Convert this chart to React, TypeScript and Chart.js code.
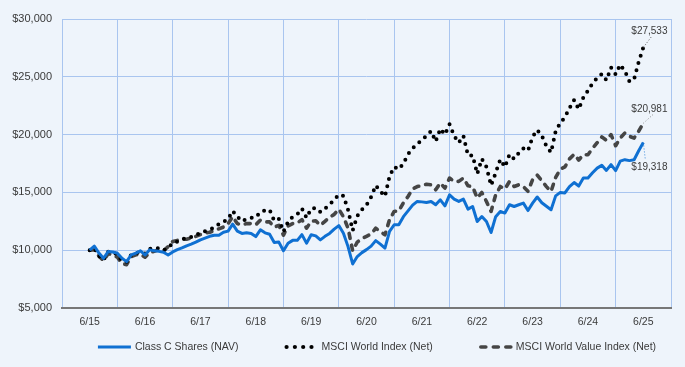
import React, { useEffect, useRef } from "react";
import { Chart, registerables } from "chart.js";

Chart.register(...registerables);

// ---- data ----
const tickLabels = ["6/15", "6/16", "6/17", "6/18", "6/19", "6/20", "6/21", "6/22", "6/23", "6/24", "6/25"];

const seriesNames = ["Class C Shares (NAV)", "MSCI World Index (Net)", "MSCI World Value Index (Net)"];

const endLabels = ["$19,318", "$27,533", "$20,981"];

// monthly values, 6/15 .. 6/25
const classC = [
  10000, 10350, 9750, 9300, 9880, 9850, 9740, 9300, 9010, 9600, 9740, 9940,
  9590, 10030, 9950, 9900, 9830, 9590, 9850, 10050, 10200, 10380, 10530, 10700,
  10900, 11050, 11200, 11300, 11300, 11550, 11650, 12250, 11650, 11450, 11500, 11450,
  11180, 11760, 11500, 11380, 10660, 10700, 9950, 10600, 10850, 10850, 11350, 10610,
  11330, 11240, 10890, 11200, 11450, 11820, 12130, 11470, 10310, 8810, 9450, 9790,
  10050, 10350, 10830, 10520, 10180, 11620, 12200, 12200, 12900, 13400, 13900, 14220,
  14180, 14130, 14220, 13930, 14360, 13840, 14790, 14420, 14220, 14420, 13550, 13780,
  12480, 12910, 12480, 11530, 12900, 13350, 13210, 13930, 13780, 13930, 14070, 13430,
  14070, 14600, 14100, 13800, 13500, 14700, 15000, 14950, 15500, 15850, 15550, 16240,
  16240, 16700, 17100, 17340, 16900, 17400, 16880, 17700, 17830, 17750, 17830, 18600,
  19318,
];

const msciWorld = [
  10000, 10180, 9490, 9140, 9860, 9810, 9640, 9060, 9000, 9610, 9760, 9820,
  9710, 10120, 10130, 10180, 9990, 10200, 10600, 10750, 10950, 11050, 11150, 11300,
  11500, 11650, 11800, 11950, 12250, 12450, 12700, 13400, 12900, 12500, 12700, 12800,
  12850, 13300, 13450, 13500, 12550, 12700, 11600, 12450, 12900, 13100, 13600, 12800,
  13600, 13650, 13300, 13600, 13950, 14350, 14800, 14700, 13500, 11700, 12950, 13500,
  13900, 14600, 15600, 15100, 14650, 16400, 17200, 17000, 17500, 18300, 18800, 19200,
  19500, 19900, 20300, 19400, 20500, 20000, 20900, 19900, 19300, 19900, 18200, 18200,
  16600, 17900, 17200, 15600, 16700, 17850, 17200, 18300, 17900, 18400, 18800, 18600,
  19800, 20400, 19900, 19000, 18460, 20300, 21000, 21500, 22300, 23000, 22200, 23200,
  23800, 24450, 24900, 25250, 24700, 25800, 25200, 26050, 25500, 24600, 24800, 26300,
  27533,
];

const msciWorldValue = [
  10000, 10050, 9500, 9100, 9700, 9600, 9400, 8850, 8750, 9450, 9600, 9650,
  9400, 9800, 9900, 10050, 9950, 10300, 10750, 10850, 10950, 10950, 11050, 11200,
  11350, 11500, 11550, 11700, 11850, 12000, 12300, 12900, 12300, 12200, 12300, 12300,
  12200, 12600, 12450, 12450, 12000, 12150, 11300, 12100, 12300, 12350, 12650, 11900,
  12500, 12550, 12150, 12500, 12850, 13100, 13550, 12900, 11900, 9950, 10700, 11000,
  11200, 11400, 11900, 11600, 11330, 12650, 13350, 13400, 14100, 14650, 15300, 15500,
  15600, 15700, 15650, 15230, 15810, 15370, 16240, 15950, 15950, 16240, 15570, 15500,
  14510, 14990, 14210, 13350, 14790, 15510, 15290, 15950, 15510, 15660, 15500, 15100,
  16100, 16500, 16000, 15500, 15080, 16300, 17000, 17200, 17900, 18300, 17800, 18260,
  18260, 18800, 19300, 19800, 19500, 20000, 19040, 19700, 20140, 19850, 19700, 20300,
  20981,
];

// ---- styles ----
const FONT = 'Arial, "Liberation Sans", Helvetica, sans-serif';
const BG = "#eef4fb";
const GRID = "#a9c5ef";
const TEXT = "#3a3a3a";
const BLUE = "#0f70d2";
const WORLD = "#000000";
const VALUE = "#454545";

type Style = { color: string; width: number; dash: number[]; kind: "line" | "dots" | "dashes" };
const styles: Style[] = [
  { color: BLUE, width: 3, dash: [], kind: "line" },
  { color: WORLD, width: 4, dash: [0, 7.5], kind: "dots" },
  { color: VALUE, width: 3.6, dash: [5, 7], kind: "dashes" },
];

// leader / label offsets relative to each series' last point
const endLabelLayout = [
  { lx: 2, ly: 17, tx: -12, ty: 25, lead: "rgba(15,112,210,0.8)" },
  { lx: 9, ly: -12, tx: -12, ty: -16, lead: "#555" },
  { lx: 10, ly: -9, tx: -12, ty: -14, lead: "#888" },
];

const endLabelPlugin = {
  id: "endLabels",
  afterDatasetsDraw(chart: any) {
    const ctx = chart.ctx;
    ctx.save();
    chart.data.datasets.forEach((_ds: any, i: number) => {
      const meta = chart.getDatasetMeta(i);
      const pt = meta.data[meta.data.length - 1];
      if (!pt) return;
      const L = endLabelLayout[i];
      ctx.beginPath();
      ctx.setLineDash([1, 2]);
      ctx.lineWidth = 1;
      ctx.strokeStyle = L.lead;
      ctx.moveTo(pt.x, pt.y);
      ctx.lineTo(pt.x + L.lx, pt.y + L.ly);
      ctx.stroke();
      ctx.setLineDash([]);
      ctx.font = `10px ${FONT}`;
      ctx.fillStyle = TEXT;
      ctx.textAlign = "left";
      ctx.textBaseline = "middle";
      ctx.fillText(endLabels[i], pt.x + L.tx, pt.y + L.ty);
    });
    ctx.restore();
  },
};

const legendPlugin = {
  id: "customLegend",
  afterDraw(chart: any) {
    const ctx = chart.ctx;
    ctx.save();
    ctx.font = `10.5px ${FONT}`;
    const sample = 33;
    const gapText = 4;
    const gapItem = 46;
    const widths = seriesNames.map((n) => ctx.measureText(n).width);
    const total = widths.reduce((a, w) => a + w + sample + gapText, 0) + gapItem * (seriesNames.length - 1);
    let x = 377 - total / 2;
    const y = 347;
    seriesNames.forEach((name, i) => {
      const s = styles[i];
      ctx.strokeStyle = s.color;
      ctx.fillStyle = s.color;
      if (s.kind === "line") {
        ctx.beginPath();
        ctx.lineWidth = s.width;
        ctx.lineCap = "butt";
        ctx.moveTo(x, y);
        ctx.lineTo(x + sample, y);
        ctx.stroke();
      } else if (s.kind === "dots") {
        for (let k = 0; k < 4; k++) {
          ctx.beginPath();
          ctx.arc(x + 2 + k * 8.3, y, 2.1, 0, Math.PI * 2);
          ctx.fill();
        }
      } else {
        ctx.beginPath();
        ctx.lineWidth = s.width;
        ctx.lineCap = "round";
        for (let k = 0; k < 3; k++) {
          const sx = x + 2 + k * 12.5;
          ctx.moveTo(sx, y);
          ctx.lineTo(sx + 5, y);
        }
        ctx.stroke();
      }
      ctx.fillStyle = TEXT;
      ctx.textAlign = "left";
      ctx.textBaseline = "middle";
      ctx.fillText(name, x + sample + gapText, y);
      x += sample + gapText + widths[i] + gapItem;
    });
    ctx.restore();
  },
};

export default function App() {
  const canvasRef = useRef<HTMLCanvasElement | null>(null);

  useEffect(() => {
    document.body.style.margin = "0";
    document.body.style.background = BG;
    const canvas = canvasRef.current;
    if (!canvas) return;
    const series = [classC, msciWorld, msciWorldValue];
    const chart = new Chart(canvas, {
      type: "line",
      data: {
        datasets: series.map((vals, i) => ({
          label: seriesNames[i],
          data: vals.map((v, m) => ({ x: m, y: v })),
          borderColor: styles[i].color,
          backgroundColor: styles[i].color,
          borderWidth: styles[i].width,
          borderDash: styles[i].dash,
          borderCapStyle: i === 0 ? "butt" : "round",
          borderJoinStyle: "round",
          pointRadius: 0,
          tension: 0,
          fill: false,
        })),
      },
      options: {
        animation: false,
        responsive: false,
        maintainAspectRatio: false,
        layout: { padding: { top: 19, right: 14, left: 0, bottom: 0 } },
        plugins: {
          legend: { display: false },
          tooltip: { enabled: false },
        },
        scales: {
          x: {
            type: "linear",
            min: -6,
            max: 126,
            afterFit: (s: any) => {
              s.height = 59;
            },
            ticks: {
              stepSize: 6,
              autoSkip: false,
              maxRotation: 0,
              padding: 8,
              color: TEXT,
              font: { family: FONT, size: 10.5 },
              callback: (value: any) => {
                const v = Number(value);
                if (v >= 0 && v % 12 === 0) return tickLabels[v / 12];
                return "";
              },
            },
            grid: {
              drawTicks: false,
              lineWidth: 1,
              color: (c: any) =>
                c.tick && (((c.tick.value + 6) % 12) + 12) % 12 === 0 ? GRID : "rgba(0,0,0,0)",
            },
            border: { display: true, color: "#777777", width: 2 },
          },
          y: {
            type: "linear",
            min: 5000,
            max: 30000,
            afterFit: (s: any) => {
              s.width = 62;
            },
            ticks: {
              stepSize: 5000,
              padding: 10,
              color: TEXT,
              font: { family: FONT, size: 11 },
              callback: (value: any) => "$" + Number(value).toLocaleString("en-US"),
            },
            grid: { drawTicks: false, color: GRID, lineWidth: 1 },
            border: { display: false },
          },
        },
      },
      plugins: [endLabelPlugin, legendPlugin],
    } as any);
    return () => chart.destroy();
  }, []);

  return (
    <div style={{ width: 685, height: 367, background: BG, position: "relative" }}>
      <canvas ref={canvasRef} width={685} height={367} style={{ display: "block", width: 685, height: 367 }} />
    </div>
  );
}
